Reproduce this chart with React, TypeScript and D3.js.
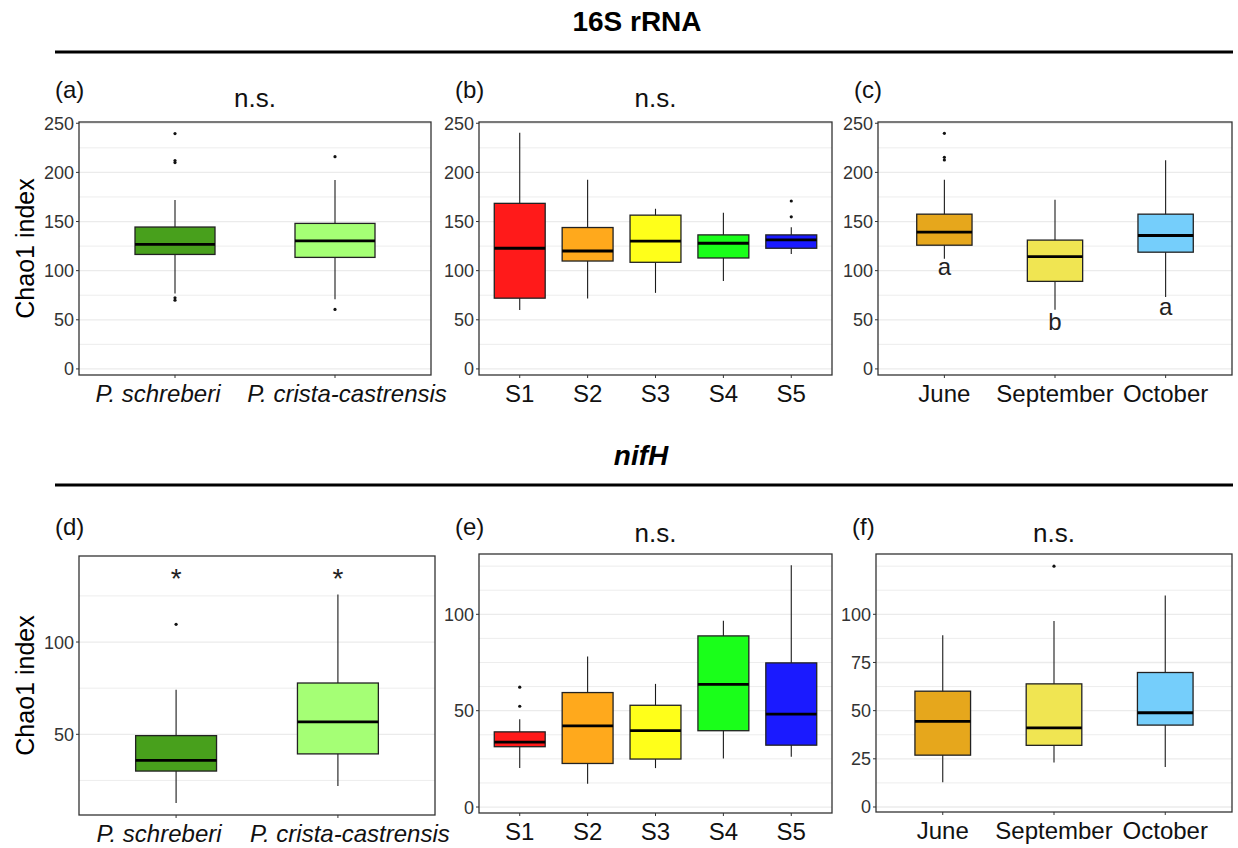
import * as d3 from "d3";
import React from "react";

// categories
const hostLabels = ["P. schreberi", "P. crista-castrensis"];
const siteLabels = ["S1", "S2", "S3", "S4", "S5"];
const monthLabels = ["June", "September", "October"];

// box summaries: [lower whisker, Q1, median, Q3, upper whisker]
const rrnaHost = [
	[76.8, 116.5, 126.7, 144.4, 172],
	[71, 113.5, 130.4, 148.1, 192.3],
];
const rrnaHostOut = [[239.5, 212, 210, 72.4, 70], [216, 60.5]];

const rrnaSite = [
	[60, 72, 122.8, 168.5, 240.4],
	[71.6, 109.8, 120, 143.9, 192.4],
	[77.4, 108.5, 130, 156.5, 163],
	[89.4, 112.9, 127.9, 136.4, 159],
	[117, 122.8, 131.3, 136.4, 144.3],
];
const rrnaSiteOut = [[], [], [], [], [170.9, 154.8]];

const rrnaMonth = [
	[112.1, 125.9, 139.2, 157.5, 192.4],
	[60.3, 89.1, 114.2, 131.1, 172.1],
	[73.2, 118.8, 135.8, 157.5, 212.4],
];
const rrnaMonthOut = [[239.8, 215.3, 212.6], [], []];
const rrnaMonthLetters = ["a", "b", "a"];
const rrnaMonthLetterY = [95.5, 39.6, 54.9];

const nifHost = [
	[12.8, 30.1, 35.9, 49.3, 74.2],
	[22.0, 39.4, 56.7, 77.8, 125.8],
];
const nifHostOut = [[109.6], []];
const nifHostMarks = ["*", "*"];
const nifHostMarkY = [129.5, 129.5];

const nifSite = [
	[20.2, 31.3, 33.7, 39.0, 45.6],
	[12.1, 22.6, 42.1, 59.4, 78.1],
	[20.2, 24.9, 39.6, 52.8, 63.9],
	[25.2, 39.6, 63.6, 88.8, 96.7],
	[26.1, 32.1, 48.2, 74.8, 125.4],
];
const nifSiteOut = [[62.2, 52.3], [], [], [], []];

const nifMonth = [
	[12.8, 26.9, 44.4, 60.1, 89.1],
	[23.1, 32.0, 41.1, 63.9, 96.5],
	[20.7, 42.5, 48.9, 69.8, 109.7],
];
const nifMonthOut = [[], [125.0], []];

// tick labels
const rrnaTicks = [0, 50, 100, 150, 200, 250];
const nifHostTicks = [50, 100];
const nifSiteTicks = [0, 50, 100];
const nifMonthTicks = [0, 25, 50, 75, 100];

const hostColors = ["#48A01C", "#A5FF75"];
const siteColors = ["#FF1A1A", "#FFA91C", "#FFFF1A", "#1AFF1A", "#1A1AFF"];
const monthColors = ["#E6A71C", "#F0E552", "#75CEFB"];

const FONT = "'Liberation Sans', Arial, sans-serif";

interface PanelProps {
	left: number;
	top: number;
	width: number;
	height: number;
	domain: [number, number];
	cats: string[];
	stats: number[][];
	outliers: number[][];
	colors: string[];
	boxWidth: number;
	ticks: number[];
	gridStep: number;
	italic?: boolean;
	labelDx?: number[];
	tag: string;
	tagY: number;
	title?: string;
	titleY: number;
	yTitle?: boolean;
	notes?: string[];
	noteY?: number[];
	noteSize?: number;
}

const Panel = (p: PanelProps) => {
	const y = d3.scaleLinear().domain(p.domain).range([p.height, 0]);
	// ggplot discrete axis: 0.6 units of padding on each side
	const x = d3
		.scaleLinear()
		.domain([0.4, p.cats.length + 0.6])
		.range([0, p.width]);
	const cx = (i: number) => x(i + 1);
	const bw = x(1 + p.boxWidth) - x(1);
	const grid = d3.range(
		Math.ceil(p.domain[0] / p.gridStep) * p.gridStep,
		p.domain[1],
		p.gridStep
	);

	return (
		<g transform={`translate(${p.left},${p.top})`} fontFamily={FONT}>
			<text x={-24} y={p.tagY} fontSize={24} fill="#111">
				{p.tag}
			</text>
			{p.title && (
				<text
					x={p.width / 2}
					y={p.titleY}
					fontSize={26}
					textAnchor="middle"
					fill="#111"
				>
					{p.title}
				</text>
			)}
			{p.yTitle && (
				<text
					transform={`translate(${34 - p.left},${p.height / 2}) rotate(-90)`}
					fontSize={25}
					textAnchor="middle"
					fill="#000"
				>
					Chao1 index
				</text>
			)}
			{grid.map((g, i) => (
				<line
					key={"g" + i}
					x1={0}
					x2={p.width}
					y1={y(g)}
					y2={y(g)}
					stroke="#EBEBEB"
					strokeWidth={p.ticks.includes(g) ? 1.3 : 0.9}
				/>
			))}
			{p.stats.map((s, i) => (
				<g key={"b" + i}>
					<line
						x1={cx(i)}
						x2={cx(i)}
						y1={y(s[0])}
						y2={y(s[4])}
						stroke="#1a1a1a"
						strokeWidth={1.1}
					/>
					<rect
						x={cx(i) - bw / 2}
						width={bw}
						y={y(s[3])}
						height={y(s[1]) - y(s[3])}
						fill={p.colors[i]}
						stroke="#222"
						strokeWidth={1.3}
					/>
					<line
						x1={cx(i) - bw / 2}
						x2={cx(i) + bw / 2}
						y1={y(s[2])}
						y2={y(s[2])}
						stroke="#000"
						strokeWidth={2.8}
					/>
					{p.outliers[i].map((o, j) => (
						<circle key={j} cx={cx(i)} cy={y(o)} r={1.6} fill="#111" />
					))}
					{p.notes && p.noteY && (
						<text
							x={cx(i)}
							y={y(p.noteY[i])}
							fontSize={p.noteSize ?? 24}
							textAnchor="middle"
							fill="#222"
						>
							{p.notes[i]}
						</text>
					)}
				</g>
			))}
			<rect
				x={0}
				y={0}
				width={p.width}
				height={p.height}
				fill="none"
				stroke="#333"
				strokeWidth={1.3}
			/>
			{p.ticks.map((t) => (
				<g key={"t" + t} transform={`translate(0,${y(t)})`}>
					<line x1={-3} x2={0} stroke="#333" strokeWidth={1} />
					<text
						x={-5}
						dy="0.36em"
						fontSize={18}
						textAnchor="end"
						fill="#333"
					>
						{t}
					</text>
				</g>
			))}
			{p.cats.map((c, i) => (
				<g key={"c" + i} transform={`translate(${cx(i)},${p.height})`}>
					<line y1={0} y2={3} stroke="#333" strokeWidth={1} />
					<text
						x={p.labelDx ? p.labelDx[i] : 0}
						y={27}
						fontSize={24}
						textAnchor="middle"
						fontStyle={p.italic ? "italic" : "normal"}
						fill="#111"
					>
						{c}
					</text>
				</g>
			))}
		</g>
	);
};

const App = () => {
	const row1 = { top: 122, height: 253, domain: [-6.2, 251.3] as [number, number] };
	return (
		<svg
			width={1238}
			height={848}
			viewBox="0 0 1238 848"
			style={{ position: "absolute", left: 0, top: 0, background: "#fff" }}
		>
			<rect width={1238} height={848} fill="#fff" />
			<text
				x={637}
				y={31}
				fontFamily={FONT}
				fontWeight="bold"
				fontSize={28}
				textAnchor="middle"
			>
				16S rRNA
			</text>
			<line x1={55} x2={1233} y1={52} y2={52} stroke="#000" strokeWidth={3} />
			<text
				x={641}
				y={465}
				fontFamily={FONT}
				fontWeight="bold"
				fontStyle="italic"
				fontSize={28}
				textAnchor="middle"
			>
				nifH
			</text>
			<line x1={55} x2={1233} y1={485} y2={485} stroke="#000" strokeWidth={3} />

			<Panel
				left={79}
				width={352}
				{...row1}
				cats={hostLabels}
				stats={rrnaHost}
				outliers={rrnaHostOut}
				colors={hostColors}
				boxWidth={0.5}
				ticks={rrnaTicks}
				gridStep={25}
				italic
				labelDx={[-17, 12]}
				tag="(a)"
				tagY={-24}
				title="n.s."
				titleY={-15}
				yTitle
			/>
			<Panel
				left={479}
				width={353}
				{...row1}
				cats={siteLabels}
				stats={rrnaSite}
				outliers={rrnaSiteOut}
				colors={siteColors}
				boxWidth={0.75}
				ticks={rrnaTicks}
				gridStep={25}
				tag="(b)"
				tagY={-24}
				title="n.s."
				titleY={-15}
			/>
			<Panel
				left={878}
				width={354}
				{...row1}
				cats={monthLabels}
				stats={rrnaMonth}
				outliers={rrnaMonthOut}
				colors={monthColors}
				boxWidth={0.5}
				ticks={rrnaTicks}
				gridStep={25}
				tag="(c)"
				tagY={-24}
				titleY={-15}
				notes={rrnaMonthLetters}
				noteY={rrnaMonthLetterY}
			/>

			<Panel
				left={79}
				top={556}
				width={356}
				height={259}
				domain={[6.3, 146.6]}
				cats={hostLabels}
				stats={nifHost}
				outliers={nifHostOut}
				colors={hostColors}
				boxWidth={0.5}
				ticks={nifHostTicks}
				gridStep={25}
				italic
				labelDx={[-17, 12]}
				tag="(d)"
				tagY={-21}
				titleY={-13}
				yTitle
				notes={nifHostMarks}
				noteY={nifHostMarkY}
				noteSize={28}
			/>
			<Panel
				left={479}
				top={554}
				width={353}
				height={259}
				domain={[-3.1, 131.3]}
				cats={siteLabels}
				stats={nifSite}
				outliers={nifSiteOut}
				colors={siteColors}
				boxWidth={0.75}
				ticks={nifSiteTicks}
				gridStep={12.5}
				tag="(e)"
				tagY={-19}
				title="n.s."
				titleY={-12}
			/>
			<Panel
				left={876}
				top={554}
				width={356}
				height={258}
				domain={[-2.6, 131.3]}
				cats={monthLabels}
				stats={nifMonth}
				outliers={nifMonthOut}
				colors={monthColors}
				boxWidth={0.5}
				ticks={nifMonthTicks}
				gridStep={12.5}
				tag="(f)"
				tagY={-19}
				title="n.s."
				titleY={-12}
			/>
		</svg>
	);
};

export default App;
